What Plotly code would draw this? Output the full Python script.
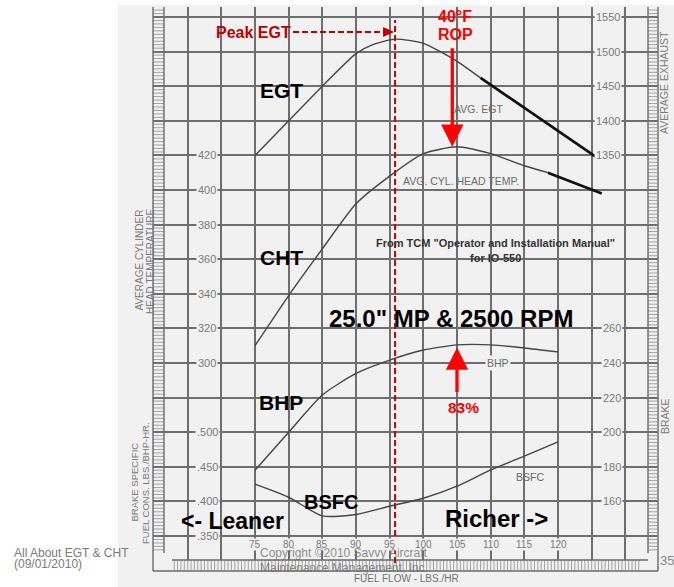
import plotly.graph_objects as go

# ---------------- data: IO-550 at 25.0" MP / 2500 RPM vs fuel flow (lbs/hr) ----------------
FF = [75, 80, 85, 90, 95, 100, 105, 110, 115, 120]

EGT_FF = [75, 80, 85, 90, 92.5, 95.8, 100, 105, 108.5]
EGT_F = [1350, 1400, 1450, 1497, 1510, 1518, 1512, 1486, 1462]
EGT_EXT_FF = [108.5, 126.5]
EGT_EXT_F = [1462, 1342]

CHT_FF = [75, 80, 85, 90, 95, 100, 105, 110, 115, 118.5]
CHT_F = [310, 339, 366, 392, 408, 421, 425, 421, 414, 410]
CHT_EXT_FF = [118.5, 126.5]
CHT_EXT_F = [410, 398]

BHP_HP = [178, 200, 221.5, 234, 241.7, 247.5, 250.5, 250.5, 248.7, 246.4]
BSFC_LB = [0.425, 0.406, 0.379, 0.381, 0.393, 0.4045, 0.422, 0.4455, 0.4655, 0.486]

PEAK_EGT_FF = 95.8
ROP_FF, ROP_CHT = 104.3, 425
PWR_FF, PWR_BHP = 105, 249

FF_TICKS = [75, 80, 85, 90, 95, 100, 105, 110, 115, 120]
CHT_TICKS = [300, 320, 340, 360, 380, 400, 420]
BSFC_TICKS = [0.35, 0.40, 0.45, 0.50]
BSFC_LABELS = [".350", ".400", ".450", ".500"]
EGT_TICKS = [1350, 1400, 1450, 1500, 1550]
BHP_TICKS = [160, 180, 200, 220, 240, 260]

# ---------------- page geometry (pixels) ----------------
W, H = 674, 587
ML, MR, MT, MB = 153, 16, 7, 27
PW, PH = W - ML - MR, H - MT - MB
ROW0, ROW = 17.0, 34.6          # first horizontal grid row, row pitch
X75, COL = 255.0, 33.667        # pixel of 75 lbs/hr, pixels per 5 lbs/hr

FONT = "Liberation Sans, Arial, Helvetica, sans-serif"
PAPER = "#f1f1f1"
GRID = "#6e6e6e"
INK = "#7a7a7a"


def ff_at(xpx):
    return 75 + (xpx - X75) * 5 / COL


def y_range(v_ref, row_ref, step):
    def v_at(ypx):
        return v_ref - (ypx - (ROW0 + ROW * row_ref)) / ROW * step
    return [v_at(H - MB), v_at(MT)]


def px(x):
    return (x - ML) / PW


def py(y):
    return (H - MB - y) / PH


fig = go.Figure()

line_thin = dict(color="#454545", width=1.4, shape="spline", smoothing=0.6)
line_thick = dict(color="#111111", width=2.6)

fig.add_trace(go.Scatter(x=EGT_FF, y=EGT_F, yaxis="y2", mode="lines", line=line_thin))
fig.add_trace(go.Scatter(x=EGT_EXT_FF, y=EGT_EXT_F, yaxis="y2", mode="lines", line=line_thick))
fig.add_trace(go.Scatter(x=CHT_FF, y=CHT_F, yaxis="y", mode="lines", line=line_thin))
fig.add_trace(go.Scatter(x=CHT_EXT_FF, y=CHT_EXT_F, yaxis="y", mode="lines", line=line_thick))
fig.add_trace(go.Scatter(x=FF, y=BHP_HP, yaxis="y3", mode="lines", line=line_thin))
fig.add_trace(go.Scatter(x=FF, y=BSFC_LB, yaxis="y4", mode="lines", line=line_thin))

# ---------------- shapes: page, rulers, frame, peak line ----------------
shapes = []
shapes.append(dict(type="rect", xref="paper", yref="paper", x0=px(118), x1=px(W + 2),
                   y0=py(H + 2), y1=py(5), fillcolor=PAPER, line=dict(width=0), layer="below"))


def seg_path(segs):
    return " ".join(f"M{px(a):.5f},{py(b):.5f} L{px(c):.5f},{py(d):.5f}" for a, b, c, d in segs)


tick_segs = []
j = -3
while True:
    y = ROW0 + j * ROW / 10
    if y > 553:
        break
    if y >= MT:
        tick_segs.append((153, y, 164, y))
        tick_segs.append((648, y, 657, y))
    j += 1
j = -30
while True:
    x = X75 + j * COL / 10
    if x > 642:
        break
    if x >= 172:
        tick_segs.append((x, 560, x, 570))
    j += 1
shapes.append(dict(type="path", xref="paper", yref="paper", path=seg_path(tick_segs),
                   line=dict(color="#999999", width=0.9), layer="below"))

frame_segs = [(153, MT, 153, 571), (164, MT, 164, 553), (648, MT, 648, 553),
              (658, MT, 658, 571), (153, 571, 658, 571), (172, 560, 648, 560)]
shapes.append(dict(type="path", xref="paper", yref="paper", path=seg_path(frame_segs),
                   line=dict(color="#6a6a6a", width=1.4), layer="below"))

# peak EGT marker line
shapes.append(dict(type="line", xref="x", yref="paper", x0=PEAK_EGT_FF, x1=PEAK_EGT_FF,
                   y0=py(563), y1=py(20), line=dict(color="#cc0000", width=2, dash="6px,3px")))
peak_px = X75 + (PEAK_EGT_FF - 75) * COL / 5
shapes.append(dict(type="line", xref="paper", yref="paper", x0=px(293), x1=px(peak_px - 9),
                   y0=py(32), y1=py(32), line=dict(color="#c00000", width=2, dash="6px,3px")))
shapes.append(dict(type="path", xref="paper", yref="paper",
                   path=f"M{px(peak_px - 1):.5f},{py(32):.5f} L{px(peak_px - 12):.5f},{py(27):.5f} "
                        f"L{px(peak_px - 12):.5f},{py(37):.5f} Z",
                   fillcolor="#c00000", line=dict(width=0)))

# ---------------- annotations ----------------
ann = []


def note(text, x, y, size, color="#000000", bold=False, **kw):
    d = dict(text=f"<b>{text}</b>" if bold else text, xref="paper", yref="paper",
             x=px(x), y=py(y), showarrow=False, xanchor="center", yanchor="middle",
             font=dict(family=FONT, size=size, color=color))
    d.update(kw)
    ann.append(d)


# axis numbers on the grid
for v in CHT_TICKS:
    ann.append(dict(text=str(v), x=ff_at(207), y=v, xref="x", yref="y", showarrow=False,
                    bgcolor=PAPER, borderpad=1, font=dict(family=FONT, size=11, color=INK)))
for v, t in zip(BSFC_TICKS, BSFC_LABELS):
    ann.append(dict(text=t, x=ff_at(207), y=v, xref="x", yref="y4", showarrow=False,
                    bgcolor=PAPER, borderpad=1, font=dict(family=FONT, size=11, color=INK)))
for v in EGT_TICKS:
    ann.append(dict(text=str(v), x=ff_at(607.5), y=v, xref="x", yref="y2", showarrow=False,
                    bgcolor=PAPER, borderpad=1, font=dict(family=FONT, size=11, color=INK)))
for v in BHP_TICKS:
    ann.append(dict(text=str(v), x=ff_at(611.7), y=v, xref="x", yref="y3", showarrow=False,
                    bgcolor=PAPER, borderpad=1, font=dict(family=FONT, size=11, color=INK)))
for v in FF_TICKS:
    ann.append(dict(text=str(v), x=v, y=py(551), xref="x", yref="paper", showarrow=False,
                    bgcolor=PAPER, borderpad=0, font=dict(family=FONT, size=10, color=INK)))

# printed curve captions
note("AVG. EGT", 478, 109, 10.5, "#6a6a6a")
note("AVG. CYL. HEAD TEMP.", 461, 181, 10.5, "#6a6a6a")
note("BHP", 498, 363, 10.5, "#6a6a6a", bgcolor=PAPER)
note("BSFC", 530, 477, 10.5, "#6a6a6a")

# axis titles (rotated)
note("AVERAGE CYLINDER", 138.5, 260, 10, INK, textangle=-90)
note("HEAD TEMPERATURE", 150, 261, 10, INK, textangle=-90)
note("BRAKE SPECIFIC", 133.5, 482, 9.5, INK, textangle=-90)
note("FUEL CONS. LBS./BHP-HR.", 145, 483, 9.5, INK, textangle=-90)
note("AVERAGE EXHAUST", 664, 83, 10.5, INK, textangle=-90)
note("BRAKE", 665, 416, 10.5, INK, textangle=-90)
note("FUEL FLOW - LBS./HR", 406, 578, 10, "#707070")

# overlay labels
note("EGT", 281, 90, 21, bold=True)
note("CHT", 281, 257, 21, bold=True)
note("BHP", 281, 403, 21, bold=True)
note("BSFC", 331, 502, 20, bold=True)
note("&lt;- Leaner", 232, 521, 23, bold=True)
note("Richer -&gt;", 496, 518, 24, bold=True)
note("25.0\" MP &amp; 2500 RPM", 451, 318, 24, bold=True)
note("From TCM \"Operator and Installation Manual\"", 495, 243, 11, "#333333", bold=True)
note("for IO-550", 495, 258, 11, "#333333", bold=True)

note("Peak EGT", 253, 32, 16, "#c00000", bold=True)
note("40°F", 455, 17, 16, "#ff0000", bold=True)
note("ROP", 455, 34, 16, "#ff0000", bold=True)
note("83%", 463, 407, 15.5, "#ff0000", bold=True)

# arrows to the CHT peak and the power peak
ann.append(dict(text="", x=ROP_FF, y=ROP_CHT, xref="x", yref="y", showarrow=True,
                ax=0, ay=-100, arrowhead=2, arrowsize=1.35, arrowwidth=3.3, arrowcolor="#ff0000"))
ann.append(dict(text="", x=PWR_FF, y=PWR_BHP, xref="x", yref="y3", showarrow=True,
                ax=0, ay=46, arrowhead=2, arrowsize=1.35, arrowwidth=3.3, arrowcolor="#ff0000"))

# page footer
note("All About EGT &amp; CHT", 12, 553, 12, "#7a7a7a", xanchor="left")
note("(09/01/2010)", 12, 564, 12, "#7a7a7a", xanchor="left")
note("Copyright ©2010 Savvy Aircraft", 344, 553, 12, "rgba(105,105,105,0.75)")
note("Maintenance Management, Inc.", 344, 568, 12, "rgba(105,105,105,0.75)")
note("35", 667, 560, 13, "#8a8a8a")

axis_common = dict(showticklabels=False, ticks="", zeroline=False, showline=False, fixedrange=True)

fig.update_layout(
    width=W, height=H,
    margin=dict(l=ML, r=MR, t=MT, b=MB, autoexpand=False),
    paper_bgcolor="#ffffff",
    plot_bgcolor="rgba(0,0,0,0)",
    showlegend=False,
    hovermode=False,
    xaxis=dict(range=[ff_at(ML), ff_at(W - MR)], showgrid=True, tick0=0, dtick=5,
               gridcolor=GRID, gridwidth=1.6, **axis_common),
    yaxis=dict(range=y_range(420, 4, 20), showgrid=True, tick0=0, dtick=20,
               gridcolor=GRID, gridwidth=1.6, **axis_common),
    yaxis2=dict(range=y_range(1550, 0, 50), overlaying="y", showgrid=False, **axis_common),
    yaxis3=dict(range=y_range(260, 9, 20), overlaying="y", showgrid=False, **axis_common),
    yaxis4=dict(range=y_range(0.5, 12, 0.05), overlaying="y", showgrid=False, **axis_common),
    shapes=shapes,
    annotations=ann,
)

fig.write_html("out.html")
